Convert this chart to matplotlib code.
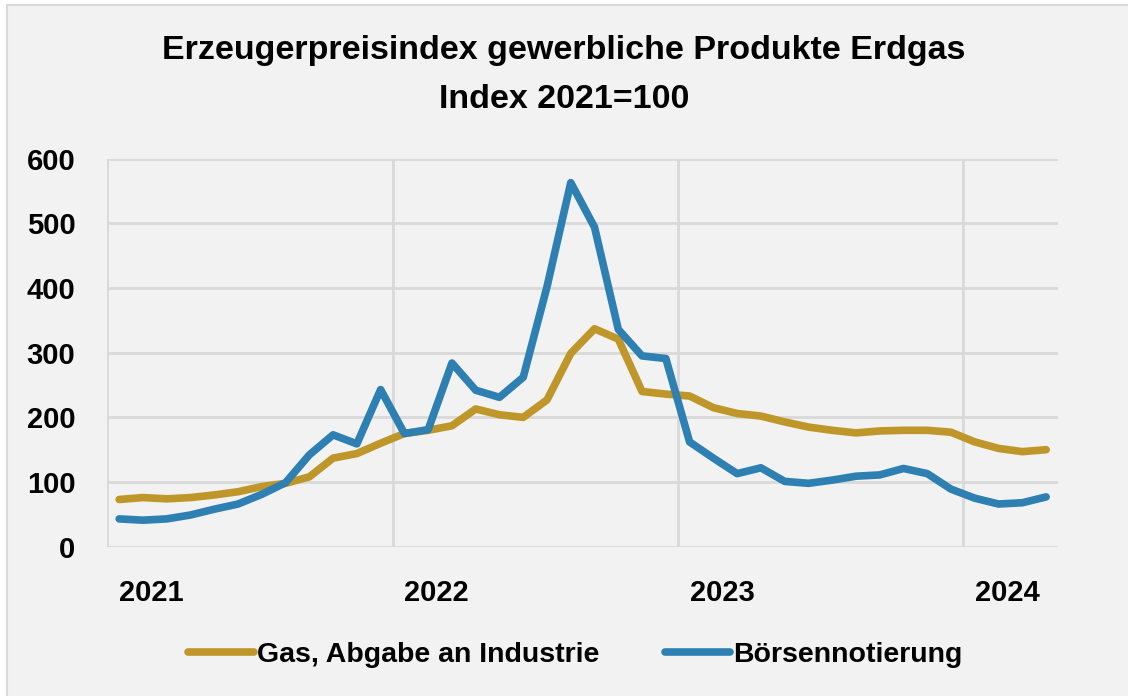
import matplotlib
matplotlib.use("Agg")
import matplotlib.pyplot as plt
from matplotlib.patches import Rectangle

# monthly values, Jan 2021 .. Apr 2024
months = list(range(40))
gas_industrie = [73, 76, 74, 76, 80, 85, 93, 98, 108, 137, 144, 160,
                 175, 180, 187, 213, 204, 200, 227, 299, 337, 321, 240, 236,
                 233, 215, 206, 202, 193, 185, 180, 176, 179, 180, 180, 177,
                 162, 152, 147, 150]
boerse = [43, 41, 43, 49, 58, 66, 81, 99, 142, 173, 159, 243,
          175, 181, 284, 242, 231, 262, 402, 563, 494, 336, 295, 291,
          162, 137, 113, 122, 101, 98, 103, 109, 111, 121, 113, 89,
          75, 66, 68, 77]
year_labels = ["2021", "2022", "2023", "2024"]
year_pos = [0, 12, 24, 36]

plt.rcParams['font.family'] = ['Liberation Sans', 'DejaVu Sans']
plt.rcParams['font.weight'] = 'bold'

bg = '#F2F2F2'
fig = plt.figure(figsize=(11.28, 6.96), dpi=100)
fig.patch.set_facecolor('white')
# chart area with thin gray border
fig.patches.append(Rectangle((7 / 1128, -0.01), 1.02, 1 - 5 / 696 + 0.01, transform=fig.transFigure,
                             facecolor=bg, edgecolor='#D9D9D9', linewidth=1.5, zorder=-5))

ax = fig.add_axes([107.3 / 1128, 1 - 546.7 / 696, (1058 - 107.3) / 1128, (546.7 - 158.7) / 696])
ax.set_facecolor(bg)

ax.plot(months, gas_industrie, color='#BF962A', lw=5.5, solid_capstyle='round',
        solid_joinstyle='round', label='Gas, Abgabe an Industrie', zorder=3)
ax.plot(months, boerse, color='#2E80B3', lw=5.5, solid_capstyle='round',
        solid_joinstyle='round', label='Börsennotierung', zorder=3)

ax.set_xlim(-0.5, 39.5)
ax.set_ylim(0, 600)
ax.set_yticks(range(0, 601, 100))
ax.set_xticks(year_pos)
ax.set_xticklabels(year_labels, ha='left')
ax.tick_params(axis='x', length=0, pad=23, labelsize=21)
ax.tick_params(axis='y', length=0, pad=23, labelsize=21)

for y in range(0, 601, 100):
    ax.axhline(y, color='#D9D9D9', lw=2, zorder=1)
for x in [-0.5, 11.5, 23.5, 35.5]:
    ax.axvline(x, color='#D9D9D9', lw=2, zorder=1)
for s in ax.spines.values():
    s.set_visible(False)

fig.text(0.5, 1 - 51 / 696, 'Erzeugerpreisindex gewerbliche Produkte Erdgas',
         ha='center', va='center', fontsize=24.5, fontweight='bold')
fig.text(0.5, 1 - 99 / 696, 'Index 2021=100',
         ha='center', va='center', fontsize=24.5, fontweight='bold')

fig.legend(loc='center', bbox_to_anchor=(0.51, 1 - 655 / 696), ncol=2, frameon=False,
           fontsize=20.5, handlelength=2.3, handletextpad=0.1, columnspacing=2.3)

fig.savefig('out.png', dpi=100, facecolor=fig.get_facecolor())
